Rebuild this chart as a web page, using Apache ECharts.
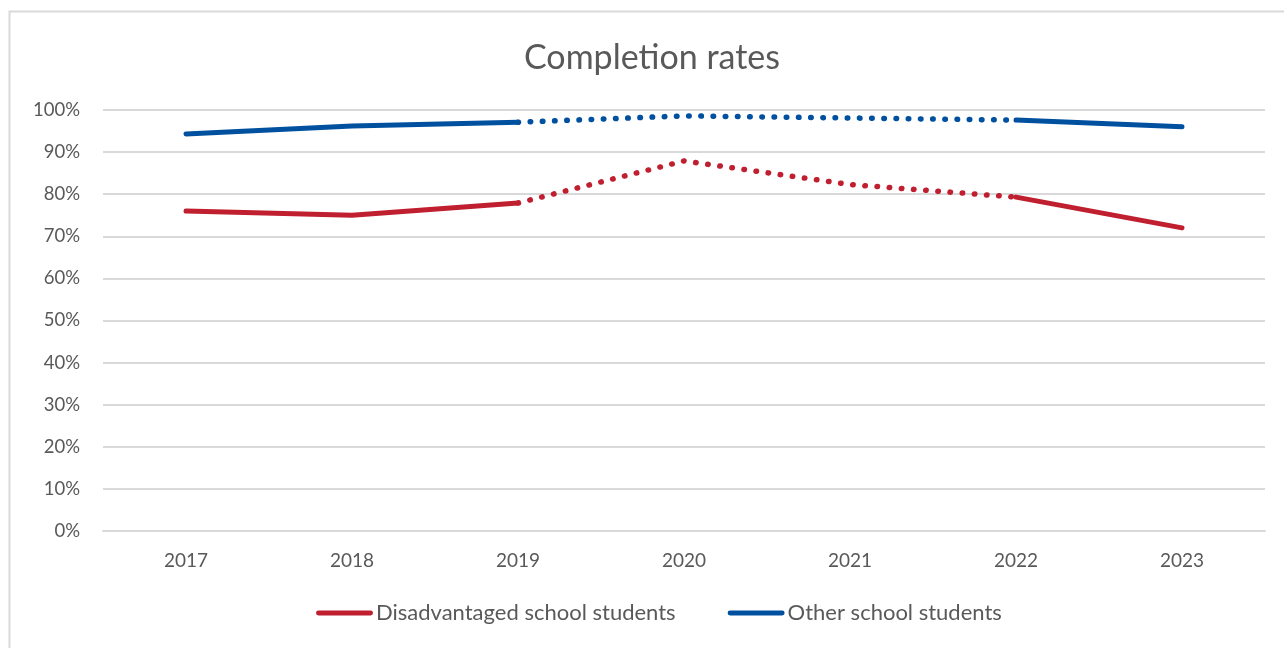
<!DOCTYPE html>
<html><head><meta charset="utf-8">
<script src="https://cdn.jsdelivr.net/npm/echarts@6/dist/echarts.min.js"></script>
<style>html,body{margin:0;padding:0;background:#fff}#c{width:1284px;height:648px}</style>
</head><body><div id="c"></div>
<script>
const years = ['2017','2018','2019','2020','2021','2022','2023'];
const disadvantaged = [76.0, 75.0, 77.9, 87.9, 82.3, 79.3, 72.0];
const other = [94.3, 96.2, 97.1, 98.6, 98.1, 97.6, 96.0];
const dottedFrom = 2, dottedTo = 5; // index range of dotted segment
const yTicks = [0,10,20,30,40,50,60,70,80,90,100];

function solidPart(arr){return arr.map((v,i)=> (i<=dottedFrom || i>=dottedTo) ? v : '-');}
function dottedPart(arr){return arr.map((v,i)=> (i>=dottedFrom && i<=dottedTo) ? v : '-');}

const RED='#C01F30', BLUE='#0050A0';
const FONT='Lato, "Open Sans", sans-serif';
const chart = echarts.init(document.getElementById('c'), null, {renderer:'canvas'});
function mk(name, data, color, dotted){
  return {name, type:'line', data, symbol:'none', connectNulls:false, animation:false,
    lineStyle:{color, width: dotted ? 5.5 : 5, cap:'round', join:'round', type: dotted ? [0.5, 11.7] : 'solid'},
    itemStyle:{color}, silent:true};
}
chart.setOption({
  backgroundColor:'#fff',
  title:{text:'Completion rates', left:519, top:36, textStyle:{fontFamily:FONT, fontSize:34, fontWeight:'normal', color:'#595959'}},
  legend:{data:['Disadvantaged school students','Other school students'], bottom:19, left:311,
    icon:'path://M2,0 L55,0 A2.5,2.5 0 0 1 55,5 L2,5 A2.5,2.5 0 0 1 2,0 Z', itemWidth:57, itemHeight:5, itemGap:52,
    textStyle:{fontFamily:FONT, fontSize:22, color:'#595959', padding:[0,0,0,-2]}},
  grid:{left:103, right:19, top:110, bottom:117, containLabel:false},
  xAxis:{type:'category', data:years, boundaryGap:true,
    axisLine:{show:true, lineStyle:{color:'#d9d9d9', width:2}}, axisTick:{show:false},
    axisLabel:{fontFamily:FONT, fontSize:19, color:'#595959', margin:20}},
  yAxis:{type:'value', min:0, max:100, interval:10,
    axisLabel:{fontFamily:FONT, fontSize:18.5, color:'#595959', margin:23, formatter:v=> yTicks.includes(v)? v+'%' : ''},
    splitLine:{lineStyle:{color:'#d9d9d9', width:2}}, axisLine:{show:false}, axisTick:{show:false}},
  graphic:[{type:'rect', shape:{x:9.5, y:11.5, width:1290, height:660}, style:{fill:'none', stroke:'#d9d9d9', lineWidth:2}, silent:true}],
  series:[
    mk('Disadvantaged school students', solidPart(disadvantaged), RED, false),
    mk('Disadvantaged dotted', dottedPart(disadvantaged), RED, true),
    mk('Other school students', solidPart(other), BLUE, false),
    mk('Other dotted', dottedPart(other), BLUE, true)
  ]
});
</script></body></html>
